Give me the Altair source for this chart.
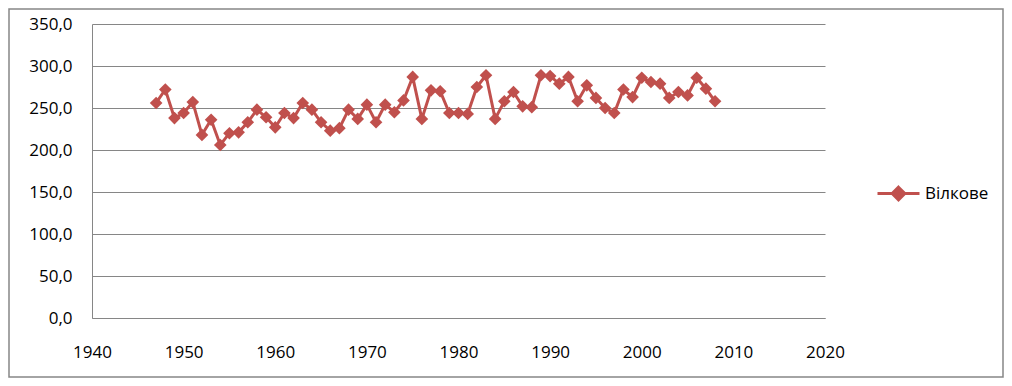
import altair as alt
import pandas as pd

years = list(range(1947, 2009))
values = [256, 272, 238, 244, 257, 218, 236, 206, 220, 221,
          233, 248, 239, 227, 244, 238, 256, 248, 233, 223,
          226, 248, 237, 254, 233, 254, 245, 259, 287, 237,
          271, 270, 244, 244, 243, 275, 289, 237, 258, 269,
          252, 251, 289, 288, 279, 287, 258, 277, 262, 250,
          244, 272, 263, 286, 281, 279, 262, 269, 265, 286,
          273, 258]
series_name = "Вілкове"
x_ticks = [1940, 1950, 1960, 1970, 1980, 1990, 2000, 2010, 2020]
y_ticks = [0, 50, 100, 150, 200, 250, 300, 350]

df = pd.DataFrame({"year": years, "value": values, "series": [series_name] * len(years)})

RED = "#C0504D"
GRID = "#868686"
FONT = "Open Sans"

W, H = 733, 294
PL, PT, PR, PB = 84, 16, 179, 60

legend_path = "M-1,0H1M0,-0.3L0.3,0L0,0.3L-0.3,0Z"

line = alt.Chart(df).mark_line(
    strokeWidth=3,
    point=alt.OverlayMarkDef(shape="diamond", size=160, filled=True, color=RED, opacity=1),
).encode(
    x=alt.X("year:Q", scale=alt.Scale(domain=[1940, 2020], nice=False),
            axis=alt.Axis(values=x_ticks, format="d", title=None, grid=False,
                          ticks=False, labelPadding=26, domainColor=GRID,
                          labelFlush=False)),
    y=alt.Y("value:Q", scale=alt.Scale(domain=[0, 350], nice=False),
            axis=alt.Axis(values=y_ticks, title=None, gridColor=GRID, ticks=False,
                          labelPadding=20, domainColor=GRID, labelFlush=False,
                          labelExpr="replace(format(datum.value, '.1f'), '.', ',')")),
    color=alt.Color("series:N", scale=alt.Scale(range=[RED]),
                    legend=alt.Legend(title=None, orient="none", legendX=784, legendY=147,
                                      symbolType=legend_path, symbolSize=1764,
                                      symbolStrokeWidth=3, symbolFillColor=RED,
                                      symbolStrokeColor=RED, labelOffset=4,
                                      labelFont=FONT, labelFontSize=17, labelColor="#000000")),
)

frame = alt.Chart(pd.DataFrame({"a": [0]})).mark_rect(
    fill="transparent", stroke=GRID, strokeWidth=1.5
).encode(
    x=alt.value(-PL + 1), x2=alt.value(W + PR - 1),
    y=alt.value(-PT + 1), y2=alt.value(H + PB - 1),
)

chart = alt.layer(frame, line).properties(
    width=W, height=H,
    autosize=alt.AutoSizeParams(type="none"),
    padding={"left": PL, "top": PT, "right": PR, "bottom": PB},
).configure_view(stroke=None).configure_axis(
    labelFont=FONT, labelFontSize=17, labelColor="#000000", gridWidth=1, domainWidth=1
)

chart.save("out.html", embed_options={"renderer": "svg", "actions": False})
